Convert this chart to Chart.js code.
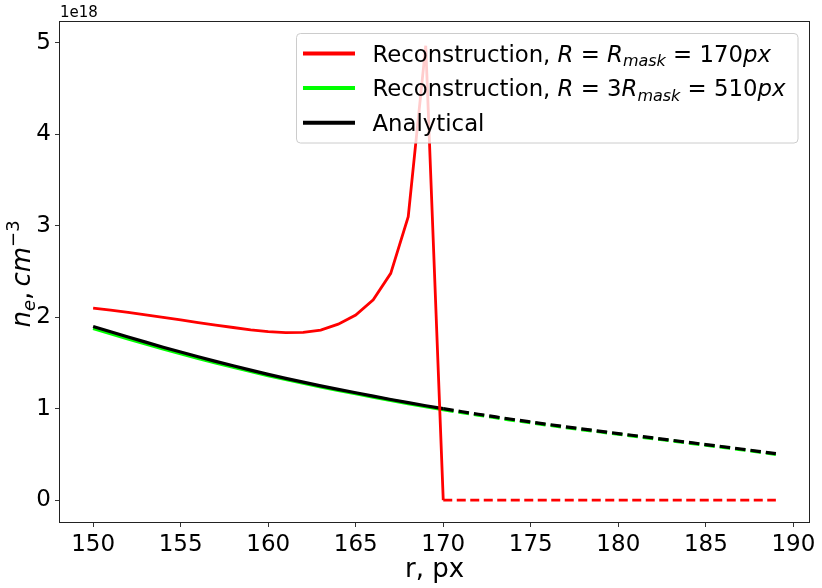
<!DOCTYPE html>
<html>
<head>
<meta charset="utf-8">
<script src="https://cdn.jsdelivr.net/npm/chart.js@4.4.1/dist/chart.umd.min.js"></script>
<style>
  html, body { margin: 0; padding: 0; background: #fff; }
  canvas { display: block; }
</style>
</head>
<body>
<canvas id="ne_profile_chart" width="822" height="588"></canvas>
<script>
// r, px
const radii = [150, 151, 152, 153, 154, 155, 156, 157, 158, 159,
               160, 161, 162, 163, 164, 165, 166, 167, 168, 169,
               170, 171, 172, 173, 174, 175, 176, 177, 178, 179,
               180, 181, 182, 183, 184, 185, 186, 187, 188, 189];

// n_e in units of 1e18 cm^-3
const reconMask = [2.100, 2.078, 2.053, 2.027, 2.000, 1.971, 1.942, 1.914, 1.888, 1.863,
                   1.843, 1.832, 1.834, 1.860, 1.925, 2.025, 2.190, 2.480, 3.100, 4.970,
                   0, 0, 0, 0, 0, 0, 0, 0, 0, 0,
                   0, 0, 0, 0, 0, 0, 0, 0, 0, 0];
const recon3Mask = [1.878, 1.820, 1.763, 1.708, 1.654, 1.602, 1.551, 1.502, 1.454, 1.408,
                    1.363, 1.320, 1.279, 1.239, 1.201, 1.164, 1.128, 1.092, 1.057, 1.023,
                    0.991, 0.960, 0.931, 0.902, 0.874, 0.847, 0.821, 0.795, 0.770, 0.746,
                    0.722, 0.698, 0.674, 0.650, 0.626, 0.602, 0.578, 0.553, 0.528, 0.502];
const analytical = [1.900, 1.841, 1.784, 1.728, 1.673, 1.620, 1.568, 1.518, 1.469, 1.422,
                    1.376, 1.332, 1.290, 1.250, 1.211, 1.174, 1.137, 1.101, 1.066, 1.032,
                    1.000, 0.969, 0.939, 0.910, 0.882, 0.855, 0.828, 0.802, 0.777, 0.752,
                    0.728, 0.704, 0.680, 0.656, 0.632, 0.608, 0.584, 0.559, 0.534, 0.508];

const maskRadius = 170;
const xTicks = [150, 155, 160, 165, 170, 175, 180, 185, 190];
const yTicks = [0, 1, 2, 3, 4, 5];

const FONT = '"DejaVu Sans", Verdana, sans-serif';

function fontOf(p) {
    return (p.i ? 'italic ' : '') + p.s + 'px ' + FONT;
}

function drawRich(ctx, parts, x, y, align) {
    let total = 0;
    parts.forEach(p => { ctx.font = fontOf(p); p.w = ctx.measureText(p.t).width; total += p.w; });
    let cx = align === 'center' ? x - total / 2 : x;
    parts.forEach(p => {
        ctx.font = fontOf(p);
        ctx.fillText(p.t, cx, y + (p.dy || 0));
        cx += p.w;
    });
}

function toPoints(values) {
    return radii.map((r, i) => ({x: r, y: values[i]}));
}

function dashAfterMask(pattern) {
    return ctx => ctx.p0.parsed.x >= maskRadius ? pattern : undefined;
}

const LS = 22.8;
const legendRows = [
    {color: '#ff0000', parts: [
        {t: 'Reconstruction, ', s: LS}, {t: 'R', s: LS, i: true}, {t: ' = ', s: LS},
        {t: 'R', s: LS, i: true}, {t: 'mask', s: 16, i: true, dy: 4.5},
        {t: ' = 170', s: LS}, {t: 'px', s: LS, i: true}]},
    {color: '#00ff00', parts: [
        {t: 'Reconstruction, ', s: LS}, {t: 'R', s: LS, i: true}, {t: ' = 3', s: LS},
        {t: 'R', s: LS, i: true}, {t: 'mask', s: 16, i: true, dy: 4.5},
        {t: ' = 510', s: LS}, {t: 'px', s: LS, i: true}]},
    {color: '#000000', parts: [{t: 'Analytical', s: LS}]}
];

const decorations = {
    id: 'decorations',
    afterDraw(chart) {
        const ctx = chart.ctx;
        const a = chart.chartArea;
        ctx.save();

        // frame
        ctx.strokeStyle = '#222';
        ctx.lineWidth = 1;
        ctx.strokeRect(Math.round(a.left) + 0.5, Math.round(a.top) + 0.5,
                       Math.round(a.right - a.left) - 1, Math.round(a.bottom - a.top) - 1);

        // legend
        const lx = 296.5, ly = 33.5, lw = 501.5, lh = 109.5, rad = 4;
        ctx.beginPath();
        ctx.roundRect(lx, ly, lw, lh, rad);
        ctx.fillStyle = 'rgba(255,255,255,0.8)';
        ctx.fill();
        ctx.strokeStyle = '#cccccc';
        ctx.stroke();

        ctx.textBaseline = 'alphabetic';
        ctx.textAlign = 'left';
        legendRows.forEach((row, k) => {
            const y = 53.5 + k * 34.6;
            ctx.beginPath();
            ctx.moveTo(303, y);
            ctx.lineTo(355, y);
            ctx.strokeStyle = row.color;
            ctx.lineWidth = 4;
            ctx.stroke();
            ctx.fillStyle = '#000';
            drawRich(ctx, row.parts, 372.5, y + 8, 'left');
        });

        // offset label
        ctx.fillStyle = '#000';
        ctx.font = '15px ' + FONT;
        ctx.fillText('1e18', 60, 17);

        // x title
        drawRich(ctx, [{t: 'r, px', s: 26}], (a.left + a.right) / 2, 577, 'center');

        // y title
        ctx.translate(30, 274);
        ctx.rotate(-Math.PI / 2);
        drawRich(ctx, [
            {t: 'n', s: 26, i: true}, {t: 'e', s: 18, i: true, dy: 5},
            {t: ',\u2009', s: 26}, {t: 'cm', s: 26, i: true},
            {t: '\u22123', s: 18, dy: -11}], 0, 0, 'center');

        ctx.restore();
    }
};

(function ne_profile_chart()
{
    const sample = document.getElementById('ne_profile_chart');
    const tickFont = {family: FONT, size: 23};
    const myChart = new Chart(sample, {
        type: 'line',
        data: {
            datasets: [{
                label: 'Reconstruction, R = Rmask = 170px',
                data: toPoints(reconMask),
                borderColor: '#ff0000',
                borderWidth: 2.8,
                segment: {borderDash: dashAfterMask([9, 4.5])},
                order: 1
            }, {
                label: 'Reconstruction, R = 3Rmask = 510px',
                data: toPoints(recon3Mask),
                borderColor: '#00ff00',
                borderWidth: 3.4,
                segment: {borderDash: dashAfterMask([10.5, 5])},
                order: 3
            }, {
                label: 'Analytical',
                data: toPoints(analytical),
                borderColor: '#000000',
                borderWidth: 3.2,
                segment: {borderDash: dashAfterMask([10.5, 5])},
                order: 2
            }]
        },
        options: {
            responsive: false,
            animation: false,
            devicePixelRatio: 1,
            layout: {padding: {top: 21, right: 12, left: 0, bottom: 0}},
            elements: {
                point: {radius: 0},
                line: {tension: 0, fill: false, borderCapStyle: 'butt'}
            },
            plugins: {
                legend: {display: false},
                tooltip: {enabled: false}
            },
            scales: {
                x: {
                    type: 'linear',
                    min: 148.05,
                    max: 190.95,
                    afterBuildTicks: s => { s.ticks = xTicks.map(v => ({value: v})); },
                    afterFit: s => { s.height = 65; s.paddingLeft = 0; s.paddingRight = 0; },
                    ticks: {font: tickFont, color: '#000', padding: 4, maxRotation: 0, autoSkip: false},
                    grid: {drawOnChartArea: false, tickLength: 4, color: '#333'},
                    border: {display: false}
                },
                y: {
                    type: 'linear',
                    min: -0.25,
                    max: 5.24,
                    afterBuildTicks: s => { s.ticks = yTicks.map(v => ({value: v})); },
                    afterFit: s => { s.width = 59; s.paddingTop = 0; s.paddingBottom = 0; },
                    ticks: {font: tickFont, color: '#000', padding: 4},
                    grid: {drawOnChartArea: false, tickLength: 4, color: '#333'},
                    border: {display: false}
                }
            }
        },
        plugins: [decorations]
    });
})();
</script>
</body>
</html>
